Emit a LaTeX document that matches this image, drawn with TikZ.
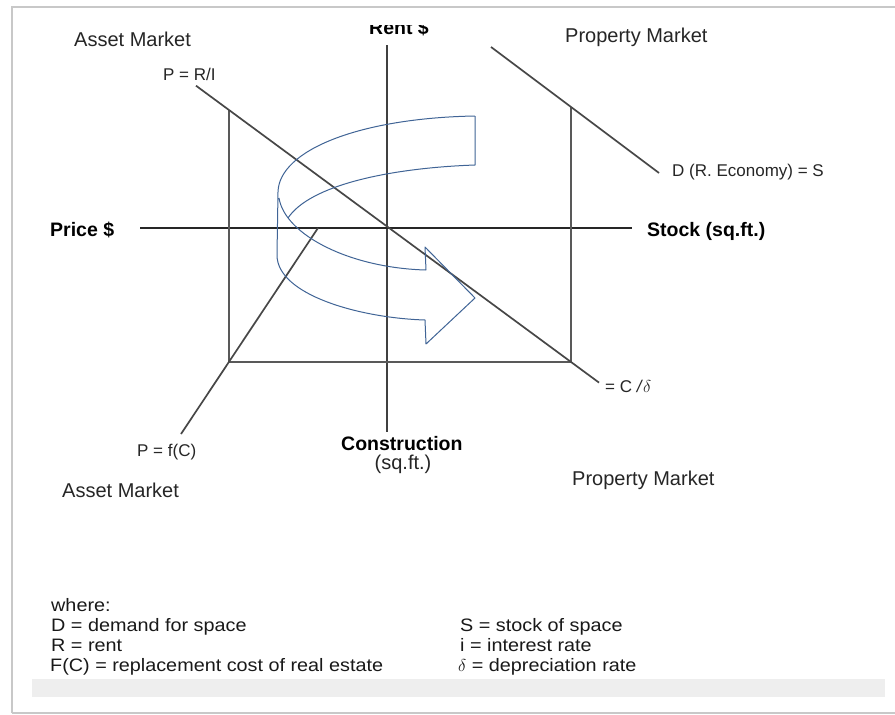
\documentclass[tikz,border=0pt]{standalone}
\usepackage{fontspec}
\setmainfont{Liberation Sans}
\newfontfamily\legendfont[FakeStretch=1.1]{Liberation Sans}
\definecolor{ribbonblue}{RGB}{64,100,150}
\definecolor{framegray}{RGB}{200,200,200}
\definecolor{bargray}{RGB}{238,238,238}
\tikzset{
  lbl/.style={font=\fontsize{20}{24}\selectfont, inner sep=0pt, anchor=base west, text=black!85},
  blbl/.style={font=\fontsize{19.5}{23}\selectfont\bfseries, inner sep=0pt, anchor=base west},
  smalllbl/.style={font=\fontsize{17}{20}\selectfont, inner sep=0pt, anchor=base west, text=black!85},
  legend/.style={font=\legendfont\fontsize{18}{20}\selectfont, inner sep=0pt, anchor=base west, text=black!90},
  axisline/.style={draw=black!85, line width=2.1pt},
  vaxis/.style={draw=black!75, line width=1.3pt},
  curveline/.style={draw=black!72, line width=1.7pt},
  boxline/.style={draw=black!65, line width=1.4pt},
  ribbon/.style={draw=ribbonblue, line width=1pt, line join=round}
}
\begin{document}
\begin{tikzpicture}[x=1pt,y=-1pt]
\useasboundingbox (0,0) rectangle (895,715);
\fill[white] (0,0) rectangle (895,715);
% frame
\draw[framegray, line width=2pt] (12,713) -- (12,7) -- (895,7);
\draw[framegray, line width=2pt] (12,713) -- (895,713);
\fill[bargray] (32,679) rectangle (885,697);

% coordinates
\coordinate (vtop) at (387,45);
\coordinate (vbot) at (387,432);
\coordinate (hleft) at (140,228);
\coordinate (hright) at (632,228);
\coordinate (prA) at (196,85.7);
\coordinate (prB) at (599,382.6);
\coordinate (dA) at (491,47);
\coordinate (dB) at (659,173);
\coordinate (fcA) at (318,228);
\coordinate (fcB) at (181,434);
\coordinate (tl) at (229,110);
\coordinate (bl) at (229,362);
\coordinate (br) at (571,362);
\coordinate (tr) at (571,107);

% axes
\draw[vaxis] (vtop) -- (vbot);
\draw[axisline] (hleft) -- (hright);
% box
\draw[boxline] (tl) -- (bl) -- (br);
\draw[boxline, line width=1.8pt] (br) -- (tr);
% curves
\draw[curveline] (prA) -- (prB);
\draw[curveline] (dA) -- (dB);
\draw[curveline] (fcA) -- (fcB);

% ribbon arrow
\draw[ribbon] (475,116) .. controls (360,118) and (279,150) .. (278,192)
  -- (277,255) .. controls (277,295) and (360,318) .. (425,320)
  -- (426,344) -- (475,298) -- (425,247) -- (426,270)
  .. controls (350,268) and (285,235) .. (279,198);
\draw[ribbon] (475,116) -- (475,165) .. controls (390,168) and (310,185) .. (288,218);

% labels
\begin{scope}
\clip (300,25) rectangle (500,60);
\node[blbl] (rent) at (369,34) {Rent \$};
\end{scope}
\node[lbl] (amtop) at (74,46) {Asset Market};
\node[lbl] (pmtop) at (565,42) {Property Market};
\node[smalllbl] (pri) at (163,80) {P = R/I};
\node[blbl] (price) at (50,236) {Price \$};
\node[blbl] (stock) at (647,236) {Stock (sq.ft.)};
\node[smalllbl] (dlab) at (672,176) {D (R. Economy) = S};
\node[smalllbl] (clab) at (605,392) {= C \textit{/}$\delta$};
\node[smalllbl] (pfc) at (137,456) {P = f(C)};
\node[blbl] (constr) at (341,450) {Construction};
\node[lbl, anchor=base] (sqft) at (403,469) {(sq.ft.)};
\node[lbl] (ambot) at (62,497) {Asset Market};
\node[lbl] (pmbot) at (572,485) {Property Market};

% legend
\node[legend] (where) at (51,611) {where:};
\node[legend] (ld) at (51,631) {D = demand for space};
\node[legend] (lr) at (51,651) {R = rent};
\node[legend] (lf) at (50,671) {F(C) = replacement cost of real estate};
\node[legend] (ls) at (460,631) {S = stock of space};
\node[legend] (li) at (460,651) {i = interest rate};
\node[legend] (ldel) at (458,671) {$\delta$ = depreciation rate};
\end{tikzpicture}
\end{document}
